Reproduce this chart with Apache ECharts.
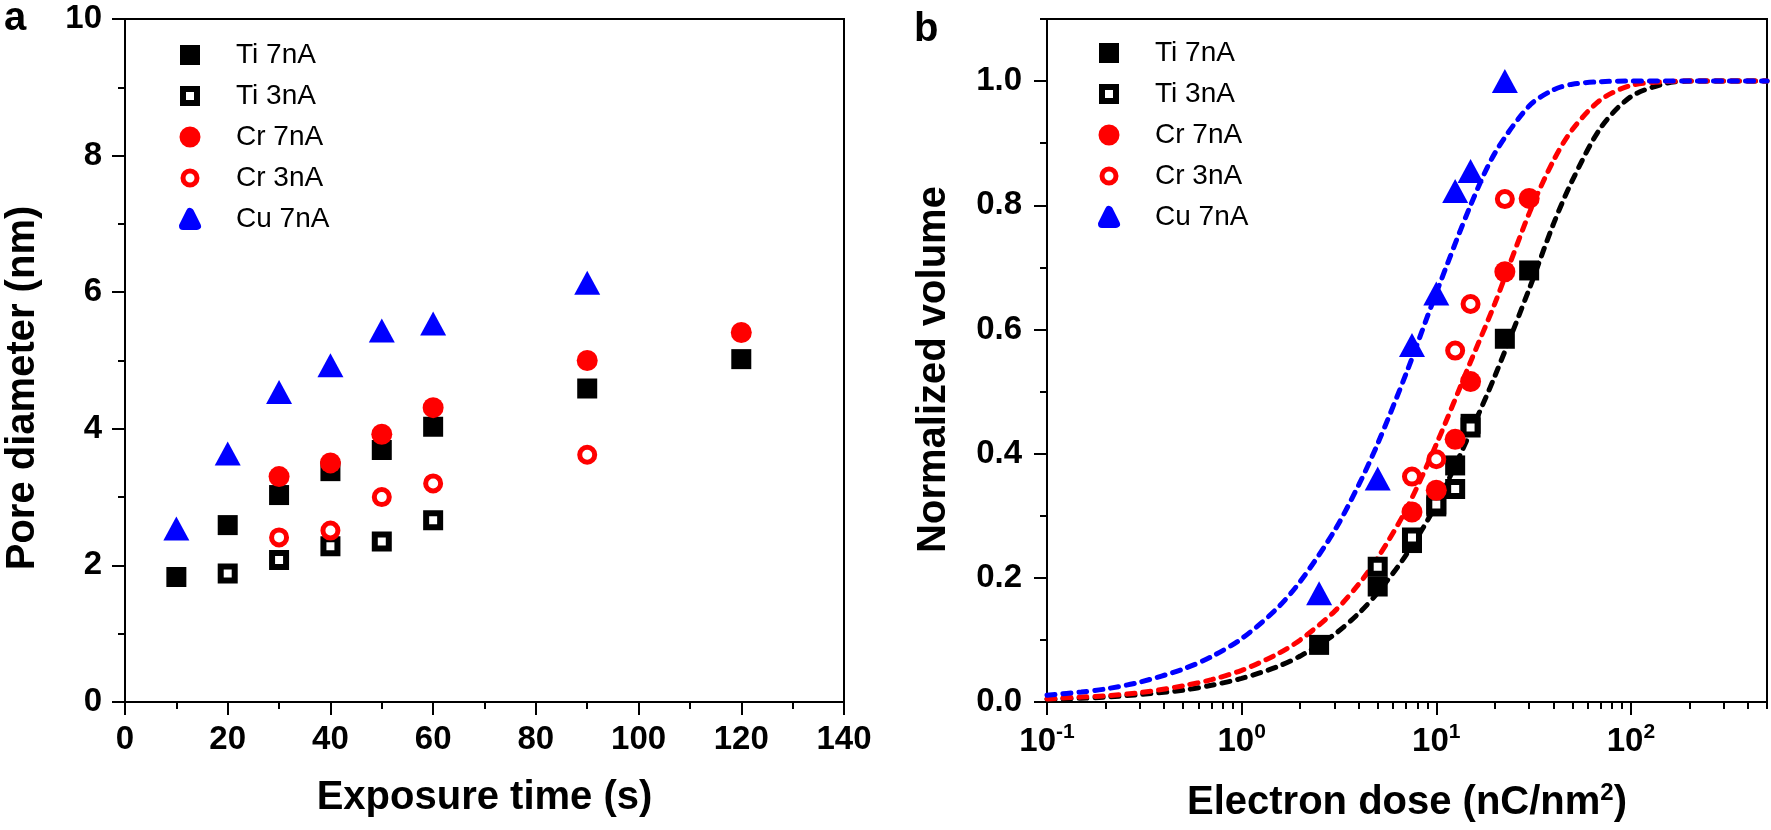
<!DOCTYPE html>
<html><head><meta charset="utf-8">
<script src="https://cdn.jsdelivr.net/npm/echarts@6/dist/echarts.min.js"></script>
<style>html,body{margin:0;padding:0;background:#fff}#c{width:1771px;height:830px}</style>
</head><body><div id="c"></div>
<script>
// ---------- Panel a : pore diameter vs exposure time ----------
const timeTi7 = [10, 20, 30, 40, 50, 60, 90, 120];
const diamTi7 = [1.83, 2.59, 3.03, 3.38, 3.69, 4.03, 4.59, 5.02];
const timeTi3 = [20, 30, 40, 50, 60];
const diamTi3 = [1.88, 2.08, 2.28, 2.35, 2.66];
const timeCr7 = [30, 40, 50, 60, 90, 120];
const diamCr7 = [3.30, 3.50, 3.92, 4.31, 5.00, 5.41];
const timeCr3 = [30, 40, 50, 60, 90];
const diamCr3 = [2.41, 2.51, 3.00, 3.20, 3.62];
const timeCu7 = [10, 20, 30, 40, 50, 60, 90];
const diamCu7 = [2.54, 3.64, 4.54, 4.93, 5.44, 5.54, 6.14];

// ---------- Panel b : normalized volume vs electron dose ----------
const doseTi7 = [2.5, 5, 7.5, 10, 12.5, 15, 22.5, 30];
const volTi7  = [0.092, 0.186, 0.256, 0.315, 0.381, 0.448, 0.585, 0.695];
const doseTi3 = [5, 7.5, 10, 12.5, 15];
const volTi3  = [0.218, 0.265, 0.318, 0.343, 0.442];
const doseCr7 = [7.5, 10, 12.5, 15, 22.5, 30];
const volCr7  = [0.306, 0.341, 0.423, 0.516, 0.693, 0.811];
const doseCr3 = [7.5, 10, 12.5, 15, 22.5];
const volCr3  = [0.363, 0.391, 0.566, 0.641, 0.810];
const doseCu7 = [2.5, 5, 7.5, 10, 12.5, 15, 22.5];
const volCu7  = [0.175, 0.360, 0.575, 0.658, 0.823, 0.855, 1.0];

// dashed fit curves at these doses
const fitDose = [0.1, 0.15, 0.2, 0.3, 0.5, 0.7, 1, 1.5, 2, 3, 4, 5, 7, 10, 15, 20, 30, 40, 50, 70, 100, 150, 200, 300, 500];
const fitTi = [0.004, 0.006, 0.008, 0.012, 0.019, 0.027, 0.038, 0.056, 0.074, 0.109, 0.143, 0.176, 0.237, 0.318, 0.435, 0.525, 0.665, 0.770, 0.840, 0.925, 0.975, 0.996, 1.0, 1.0, 1.0];
const fitCr = [0.005, 0.008, 0.010, 0.015, 0.026, 0.036, 0.051, 0.076, 0.100, 0.146, 0.190, 0.232, 0.310, 0.415, 0.548, 0.642, 0.787, 0.872, 0.922, 0.970, 0.993, 0.999, 1.0, 1.0, 1.0];
const fitCu = [0.011, 0.016, 0.021, 0.032, 0.053, 0.073, 0.102, 0.149, 0.194, 0.276, 0.350, 0.416, 0.529, 0.659, 0.800, 0.884, 0.960, 0.986, 0.995, 0.999, 1.0, 1.0, 1.0, 1.0, 1.0];

// ticks / labels
const seriesNames = ['Ti 7nA', 'Ti 3nA', 'Cr 7nA', 'Cr 3nA', 'Cu 7nA'];
const volMajorTicks = [0, 0.2, 0.4, 0.6, 0.8, 1.0];
const volMinorTicks = [0.1, 0.3, 0.5, 0.7, 0.9, 1.1];
const doseMajorTicks = [0.1, 1, 10, 100];
const doseMinorTicks = [0.2, 0.3, 0.4, 0.5, 0.6, 0.7, 0.8, 0.9, 2, 3, 4, 5, 6, 7, 8, 9, 20, 30, 40, 50, 60, 70, 80, 90, 200, 300, 400, 500];

const FONT = 'Liberation Sans';
const pair = (xs, ys) => xs.map((x, i) => [x, ys[i]]);

const markerStyle = {
  'Ti 7nA': { symbol: 'rect', symbolSize: 20, itemStyle: { color: '#000000', opacity: 1 } },
  'Ti 3nA': { symbol: 'rect', symbolSize: 14, itemStyle: { color: '#ffffff', borderColor: '#000000', borderWidth: 6, opacity: 1 } },
  'Cr 7nA': { symbol: 'circle', symbolSize: 21, itemStyle: { color: '#ff0000', opacity: 1 } },
  'Cr 3nA': { symbol: 'circle', symbolSize: 15, itemStyle: { color: '#ffffff', borderColor: '#ff0000', borderWidth: 5, opacity: 1 } },
  'Cu 7nA': { symbol: 'triangle', symbolSize: [26, 24], itemStyle: { color: '#0000ff', opacity: 1 } }
};

function scatter(name, data, axisIdx) {
  const s = markerStyle[name];
  return Object.assign({
    type: 'scatter', name: name, data: data,
    xAxisIndex: axisIdx, yAxisIndex: axisIdx, z: 3,
    emphasis: { disabled: true }
  }, JSON.parse(JSON.stringify(s)));
}
function fitLine(name, data, color) {
  return {
    type: 'line', name: name, data: data, xAxisIndex: 1, yAxisIndex: 1,
    showSymbol: false, smooth: 0.3, z: 2, silent: true,
    lineStyle: { color: color, width: 5, type: [8, 8], cap: 'round', opacity: 1 }
  };
}

const legendData = [
  { name: 'Ti 7nA', itemStyle: { color: '#000000', borderColor: '#000000', borderWidth: 6, opacity: 1 } },
  { name: 'Ti 3nA', itemStyle: { color: '#ffffff', borderColor: '#000000', borderWidth: 6, opacity: 1 } },
  { name: 'Cr 7nA', itemStyle: { color: '#ff0000', borderColor: '#ff0000', borderWidth: 7, opacity: 1 } },
  { name: 'Cr 3nA', itemStyle: { color: '#ffffff', borderColor: '#ff0000', borderWidth: 5, opacity: 1 } },
  { name: 'Cu 7nA', itemStyle: { color: '#0000ff', borderColor: '#0000ff', borderWidth: 8, borderJoin: 'round', opacity: 1 } }
];
function legend(left, top) {
  return {
    orient: 'vertical', left: left, top: top, padding: 0,
    itemWidth: 14, itemHeight: 14, itemGap: 13, selectedMode: false, symbolKeepAspect: true,
    textStyle: { fontFamily: FONT, fontSize: 28, color: '#000', padding: [0, 0, 0, 34] },
    data: legendData
  };
}

const axisLine = { onZero: false, lineStyle: { color: '#000', width: 2 } };
const tickStyle = { color: '#000', width: 2 };
const labelStyle = { color: '#000', fontSize: 33, fontWeight: 'bold', fontFamily: FONT };
const nameStyle = { color: '#000', fontSize: 40, fontWeight: 'bold', fontFamily: FONT, lineHeight: 44 };

const option = {
  animation: false,
  backgroundColor: '#ffffff',
  textStyle: { fontFamily: FONT },
  grid: [
    { left: 125, top: 19, width: 719, height: 683, show: true, borderColor: '#000', borderWidth: 2, outerBoundsMode: 'none' },
    { left: 1047, top: 19, width: 720, height: 683, show: true, borderColor: '#000', borderWidth: 2, outerBoundsMode: 'none' }
  ],
  xAxis: [
    {
      gridIndex: 0, type: 'value', min: 0, max: 140, interval: 20, position: 'bottom',
      axisLine: axisLine,
      axisTick: { length: 13, lineStyle: tickStyle },
      minorTick: { show: true, splitNumber: 2, length: 7, lineStyle: tickStyle },
      splitLine: { show: false },
      axisLabel: Object.assign({ margin: 21 }, labelStyle),
      name: 'Exposure time (s)', nameLocation: 'middle', nameGap: 74, nameTextStyle: nameStyle
    },
    {
      gridIndex: 1, type: 'log', logBase: 10, min: 0.1, max: 500, position: 'bottom',
      axisLine: axisLine,
      axisTick: { length: 13, lineStyle: tickStyle, customValues: doseMajorTicks },
      splitLine: { show: false }, minorTick: { show: false },
      axisLabel: {
        margin: 20, customValues: doseMajorTicks,
        formatter: function (v) { return '{b|10}{s|' + Math.round(Math.log10(v)) + '}'; },
        rich: {
          b: { color: '#000', fontSize: 33, fontWeight: 'bold', fontFamily: FONT, lineHeight: 40 },
          s: { color: '#000', fontSize: 21, fontWeight: 'bold', fontFamily: FONT, lineHeight: 24, verticalAlign: 'top' }
        }
      },
      name: 'Electron dose (nC/nm{sup|2})', nameLocation: 'middle', nameGap: 79,
      nameTextStyle: Object.assign({}, nameStyle, {
        rich: { sup: { color: '#000', fontSize: 24, fontWeight: 'bold', fontFamily: FONT, lineHeight: 14, verticalAlign: 'top' } }
      })
    },
    {
      gridIndex: 1, type: 'log', logBase: 10, min: 0.1, max: 500, position: 'bottom',
      axisLine: { show: false, onZero: false },
      axisTick: { length: 7, lineStyle: tickStyle, customValues: doseMinorTicks },
      axisLabel: { show: false }, splitLine: { show: false }
    }
  ],
  yAxis: [
    {
      gridIndex: 0, type: 'value', min: 0, max: 10, interval: 2, position: 'left',
      axisLine: axisLine,
      axisTick: { length: 13, lineStyle: tickStyle },
      minorTick: { show: true, splitNumber: 2, length: 7, lineStyle: tickStyle },
      splitLine: { show: false },
      axisLabel: Object.assign({ margin: 23 }, labelStyle),
      name: 'Pore diameter (nm)', nameLocation: 'middle', nameRotate: 90, nameGap: 80,
      nameTextStyle: Object.assign({}, nameStyle, { padding: [0, 55, 0, 0] })
    },
    {
      gridIndex: 1, type: 'value', min: 0, max: 1.1, position: 'left',
      axisLine: axisLine,
      axisTick: { length: 13, lineStyle: tickStyle, customValues: volMajorTicks },
      splitLine: { show: false },
      axisLabel: Object.assign({ margin: 25, customValues: volMajorTicks, formatter: v => v.toFixed(1) }, labelStyle),
      name: 'Normalized volume', nameLocation: 'middle', nameRotate: 90, nameGap: 91,
      nameTextStyle: Object.assign({}, nameStyle, { padding: [0, 18, 0, 0] })
    },
    {
      gridIndex: 1, type: 'value', min: 0, max: 1.1, position: 'left',
      axisLine: { show: false, onZero: false },
      axisTick: { length: 7, lineStyle: tickStyle, customValues: volMinorTicks },
      axisLabel: { show: false }, splitLine: { show: false }
    }
  ],
  legend: [legend(179, 41), legend(1098, 39)],
  graphic: [
    { type: 'text', x: 4, y: 19, style: { text: 'a', font: 'bold 40px "Liberation Sans"', fill: '#000', align: 'left', verticalAlign: 'middle' } },
    { type: 'text', x: 914, y: 30, style: { text: 'b', font: 'bold 40px "Liberation Sans"', fill: '#000', align: 'left', verticalAlign: 'middle' } }
  ],
  series: [
    scatter('Ti 7nA', pair(timeTi7, diamTi7), 0),
    scatter('Ti 3nA', pair(timeTi3, diamTi3), 0),
    scatter('Cr 7nA', pair(timeCr7, diamCr7), 0),
    scatter('Cr 3nA', pair(timeCr3, diamCr3), 0),
    scatter('Cu 7nA', pair(timeCu7, diamCu7), 0),
    fitLine('Ti fit', pair(fitDose, fitTi), '#000000'),
    fitLine('Cr fit', pair(fitDose, fitCr), '#ff0000'),
    fitLine('Cu fit', pair(fitDose, fitCu), '#0000ff'),
    scatter('Ti 7nA', pair(doseTi7, volTi7), 1),
    scatter('Ti 3nA', pair(doseTi3, volTi3), 1),
    scatter('Cr 7nA', pair(doseCr7, volCr7), 1),
    scatter('Cr 3nA', pair(doseCr3, volCr3), 1),
    scatter('Cu 7nA', pair(doseCu7, volCu7), 1)
  ]
};

const chart = echarts.init(document.getElementById('c'), null, { renderer: 'canvas' });
chart.setOption(option);
</script>
</body></html>
